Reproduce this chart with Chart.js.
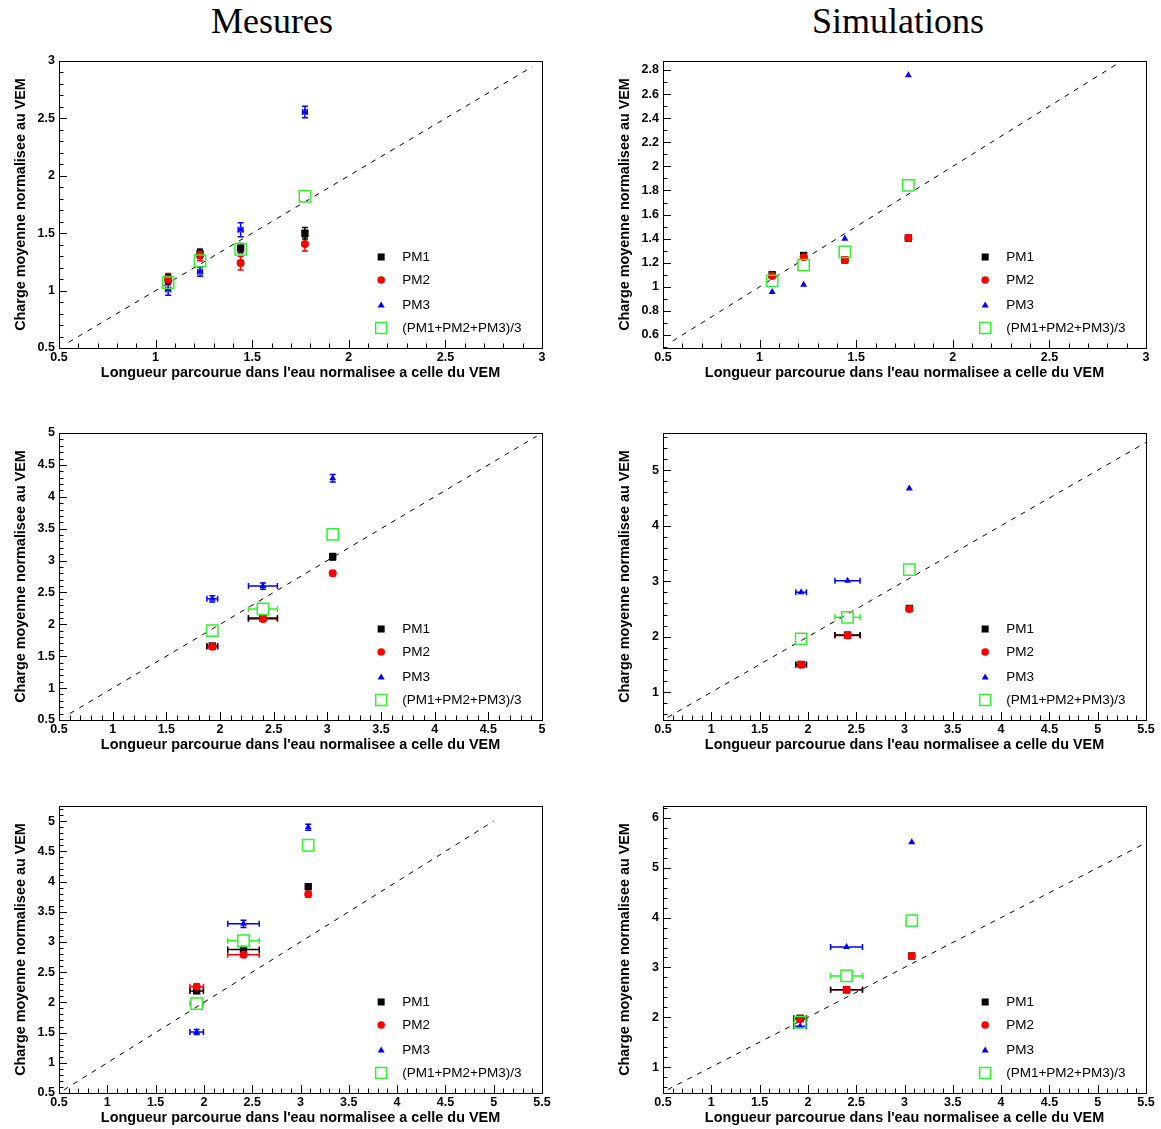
<!DOCTYPE html>
<html>
<head>
<meta charset="utf-8">
<script src="https://cdn.jsdelivr.net/npm/chart.js@4/dist/chart.umd.min.js"></script>
<style>
  body { margin: 0; background: #fff; width: 1161px; height: 1129px; position: relative; overflow: hidden; }
  canvas { position: absolute; }
  .head { position: absolute; top: 0; font-family: 'Liberation Serif', 'DejaVu Serif', serif; font-size: 36px; color: #000; text-align: center; width: 400px; }
</style>
</head>
<body>
<div class="head" style="left:72px">Mesures</div>
<div class="head" style="left:698px">Simulations</div>
<canvas id="m1"></canvas>
<canvas id="s1"></canvas>
<canvas id="m2"></canvas>
<canvas id="s2"></canvas>
<canvas id="m3"></canvas>
<canvas id="s3"></canvas>
<script>
const seriesNames = ['PM1', 'PM2', 'PM3', '(PM1+PM2+PM3)/3'];
const xTitle = "Longueur parcourue dans l'eau normalisee a celle du VEM";
const yTitle = 'Charge moyenne normalisee au VEM';

// Mesures, haut
const m1X = [1.065, 1.23, 1.44, 1.773];
const m1XErr = [0.012, 0.012, 0.012, 0.012];
const m1PM1 = [1.10, 1.32, 1.37, 1.50];
const m1PM1Err = [0.04, 0.04, 0.04, 0.05];
const m1PM2 = [1.10, 1.31, 1.24, 1.405];
const m1PM2Err = [0.05, 0.05, 0.06, 0.06];
const m1PM3 = [1.01, 1.165, 1.53, 2.555];
const m1PM3Err = [0.05, 0.04, 0.06, 0.05];
const m1Moy = [1.07, 1.26, 1.36, 1.82];
const m1MoyErr = [0.03, 0.03, 0.04, 0.05];
const m1Diag = [0.55, 2.95];

// Simulations, haut
const s1X = [1.065, 1.228, 1.441, 1.77];
const s1XErr = [0.01, 0.01, 0.01, 0.01];
const s1PM1 = [1.10, 1.26, 1.223, 1.405];
const s1PM1Err = [0.01, 0.01, 0.01, 0.01];
const s1PM2 = [1.09, 1.245, 1.223, 1.405];
const s1PM2Err = [0.01, 0.01, 0.01, 0.02];
const s1PM3 = [0.957, 1.018, 1.40, 2.756];
const s1PM3Err = [0.01, 0.01, 0.01, 0.01];
const s1Moy = [1.05, 1.18, 1.29, 1.843];
const s1MoyErr = [0.01, 0.01, 0.01, 0.01];
const s1Diag = [0.55, 2.87];

// Mesures, milieu
const m2X = [1.928, 2.40, 3.05];
const m2XErr = [0.05, 0.135, 0.01];
const m2PM1 = [1.66, 2.10, 3.06];
const m2PM1Err = [0.03, 0.03, 0.05];
const m2PM2 = [1.648, 2.083, 2.80];
const m2PM2Err = [0.03, 0.03, 0.04];
const m2PM3 = [2.40, 2.60, 4.29];
const m2PM3Err = [0.05, 0.05, 0.06];
const m2Moy = [1.90, 2.24, 3.41];
const m2MoyErr = [0.03, 0.03, 0.04];
const m2Diag = [0.6, 4.95];

// Simulations, milieu
const s2X = [1.93, 2.41, 3.05];
const s2XErr = [0.055, 0.13, 0.01];
const s2PM1 = [1.50, 2.03, 2.51];
const s2PM1Err = [0.02, 0.02, 0.02];
const s2PM2 = [1.497, 2.02, 2.50];
const s2PM2Err = [0.02, 0.02, 0.02];
const s2PM3 = [2.80, 3.01, 4.67];
const s2PM3Err = [0.02, 0.02, 0.02];
const s2Moy = [1.96, 2.35, 3.21];
const s2MoyErr = [0.02, 0.02, 0.02];
const s2Diag = [0.55, 5.5];

// Mesures, bas
const m3X = [1.925, 2.41, 3.08];
const m3XErr = [0.07, 0.163, 0.01];
const m3PM1 = [2.19, 2.876, 3.915];
const m3PM1Err = [0.04, 0.04, 0.04];
const m3PM2 = [2.26, 2.79, 3.79];
const m3PM2Err = [0.05, 0.04, 0.05];
const m3PM3 = [1.51, 3.30, 4.90];
const m3PM3Err = [0.04, 0.06, 0.05];
const m3Moy = [1.98, 3.02, 4.60];
const m3MoyErr = [0.04, 0.04, 0.05];
const m3Diag = [0.55, 5.0];

// Simulations, bas
const s3X = [1.92, 2.40, 3.075];
const s3XErr = [0.065, 0.165, 0.01];
const s3PM1 = [1.98, 2.55, 3.23];
const s3PM1Err = [0.02, 0.02, 0.02];
const s3PM2 = [1.96, 2.55, 3.23];
const s3PM2Err = [0.02, 0.02, 0.02];
const s3PM3 = [1.82, 3.41, 5.51];
const s3PM3Err = [0.02, 0.02, 0.02];
const s3Moy = [1.90, 2.83, 3.94];
const s3MoyErr = [0.02, 0.02, 0.02];
const s3Diag = [0.55, 5.5];

const colors = { pm1: '#000000', pm2: '#ff0000', pm3: '#0000ff', moy: '#33ee33' };
const tickFont = { family: "'Liberation Sans', Arial, sans-serif", size: 12.5, weight: 'bold' };
const titleFont = { family: "'Liberation Sans', Arial, sans-serif", size: 14.4, weight: 'bold' };

function points(xs, ys, xErr, yErr) {
    return xs.map((x, i) => ({ x: x, y: ys[i], xErr: xErr[i], yErr: yErr[i] }));
}

// ROOT style error bars with small caps, leaving a gap around the marker
const errorBars = {
    id: 'errorBars',
    beforeDatasetsDraw(chart) {
        const { ctx, scales: { x, y } } = chart;
        chart.data.datasets.forEach(ds => {
            if (!ds.errColor) return;
            const gap = ds.errGap || 0;
            ctx.save();
            ctx.strokeStyle = ds.errColor;
            ctx.lineWidth = 1.5;
            ds.data.forEach(p => {
                const px = x.getPixelForValue(p.x);
                const py = y.getPixelForValue(p.y);
                const x0 = x.getPixelForValue(p.x - p.xErr);
                const x1 = x.getPixelForValue(p.x + p.xErr);
                const y0 = y.getPixelForValue(p.y - p.yErr);
                const y1 = y.getPixelForValue(p.y + p.yErr);
                const c = 3;
                ctx.beginPath();
                if (px - x0 > gap) {
                    ctx.moveTo(x0, py); ctx.lineTo(px - gap, py);
                    ctx.moveTo(px + gap, py); ctx.lineTo(x1, py);
                    ctx.moveTo(x0, py - c); ctx.lineTo(x0, py + c);
                    ctx.moveTo(x1, py - c); ctx.lineTo(x1, py + c);
                }
                if (y0 - py > gap) {
                    ctx.moveTo(px, y0); ctx.lineTo(px, py + gap);
                    ctx.moveTo(px, py - gap); ctx.lineTo(px, y1);
                    ctx.moveTo(px - c, y0); ctx.lineTo(px + c, y0);
                    ctx.moveTo(px - c, y1); ctx.lineTo(px + c, y1);
                }
                ctx.stroke();
            });
            ctx.restore();
        });
    }
};

// frame and inner ticks
const rootFrame = {
    id: 'rootFrame',
    afterDraw(chart, args, opts) {
        const { ctx, chartArea: a, scales } = chart;
        ctx.save();
        ctx.strokeStyle = '#000';
        ctx.lineWidth = 1;
        ctx.strokeRect(Math.round(a.left) + 0.5, Math.round(a.top) + 0.5, Math.round(a.width), Math.round(a.height));
        ctx.beginPath();
        const xs = scales.x, ys = scales.y;
        let ms = opts.xStep / opts.xSub;
        for (let k = Math.ceil(xs.min / ms - 1e-6); k <= Math.floor(xs.max / ms + 1e-6); k++) {
            const px = Math.round(xs.getPixelForValue(k * ms)) + 0.5;
            const len = k % opts.xSub === 0 ? 8 : 4.5;
            ctx.moveTo(px, a.bottom); ctx.lineTo(px, a.bottom - len);
        }
        ms = opts.yStep / opts.ySub;
        for (let k = Math.ceil(ys.min / ms - 1e-6); k <= Math.floor(ys.max / ms + 1e-6); k++) {
            const py = Math.round(ys.getPixelForValue(k * ms)) + 0.5;
            const len = k % opts.ySub === 0 ? 8 : 4.5;
            ctx.moveTo(a.left, py); ctx.lineTo(a.left + len, py);
        }
        ctx.stroke();
        ctx.restore();
    }
};

function drawMarker(ctx, kind, x, y) {
    ctx.beginPath();
    if (kind === 'pm1') {
        ctx.fillStyle = colors.pm1;
        ctx.fillRect(x - 3.5, y - 3.5, 7, 7);
    } else if (kind === 'pm2') {
        ctx.fillStyle = colors.pm2;
        ctx.arc(x, y, 3.8, 0, Math.PI * 2);
        ctx.fill();
    } else if (kind === 'pm3') {
        ctx.fillStyle = colors.pm3;
        ctx.moveTo(x, y - 3.5); ctx.lineTo(x + 3.5, y + 2.5); ctx.lineTo(x - 3.5, y + 2.5);
        ctx.closePath();
        ctx.fill();
    } else {
        ctx.strokeStyle = colors.moy;
        ctx.lineWidth = 1.5;
        ctx.strokeRect(x - 5.5, y - 5.5, 11, 11);
    }
}

// legend inside the frame, no box
const insideLegend = {
    id: 'insideLegend',
    afterDraw(chart) {
        const { ctx, chartArea: a } = chart;
        const kinds = ['pm1', 'pm2', 'pm3', 'moy'];
        const rows = [196, 219, 244, 267];
        const mx = a.left + a.width * 0.667;
        ctx.save();
        ctx.font = "13.5px 'Liberation Sans', Arial, sans-serif";
        ctx.textBaseline = 'middle';
        kinds.forEach((k, i) => {
            drawMarker(ctx, k, mx, a.top + rows[i]);
            ctx.fillStyle = '#000';
            ctx.fillText(seriesNames[i], mx + 21, a.top + rows[i]);
        });
        ctx.restore();
    }
};

function fmt(v) {
    return String(Math.round(v * 100) / 100);
}

// ticks at every multiple of the step inside the range
function stepTicks(step) {
    return axis => {
        const list = [];
        for (let k = Math.ceil(axis.min / step - 1e-6); k <= Math.floor(axis.max / step + 1e-6); k++) {
            list.push({ value: Math.round(k * step * 1000) / 1000 });
        }
        axis.ticks = list;
    };
}

function makePanel(id, frame, p) {
    const canvas = document.getElementById(id);
    const yw = 47, xh = 34, padTop = 12, padRight = 16;
    canvas.width = frame.right - frame.left + yw + padRight;
    canvas.height = frame.bottom - frame.top + padTop + xh;
    canvas.style.left = (frame.left - yw) + 'px';
    canvas.style.top = (frame.top - padTop) + 'px';

    const scatter = (label, ys, errs, color, style, radius, gap) => ({
        label: label,
        data: points(p.x, ys, p.xErr, errs),
        pointStyle: style,
        pointRadius: radius,
        backgroundColor: color,
        borderColor: color,
        borderWidth: 0,
        errColor: color,
        errGap: gap
    });

    const moy = scatter(seriesNames[3], p.moy, p.moyErr, colors.moy, 'rect', 8, 6);
    moy.backgroundColor = 'rgba(0,0,0,0)';
    moy.borderWidth = 1.5;

    new Chart(canvas, {
        type: 'scatter',
        data: {
            datasets: [
                moy,
                scatter(seriesNames[2], p.pm3, p.pm3Err, colors.pm3, 'triangle', 4, 2),
                scatter(seriesNames[1], p.pm2, p.pm2Err, colors.pm2, 'circle', 4, 2),
                scatter(seriesNames[0], p.pm1, p.pm1Err, colors.pm1, 'rect', 5.2, 2),
                {
                    label: 'diag',
                    data: p.diag.map(v => ({ x: v, y: v })),
                    showLine: true,
                    pointRadius: 0,
                    borderColor: '#000',
                    borderWidth: 1,
                    borderDash: [5, 6]
                }
            ]
        },
        options: {
            responsive: false,
            animation: false,
            layout: { padding: { top: padTop, right: padRight, left: 0, bottom: 0 } },
            plugins: {
                legend: { display: false },
                tooltip: { enabled: false },
                rootFrame: { xStep: p.xStep, xSub: 5, yStep: p.yStep, ySub: p.ySub }
            },
            scales: {
                x: {
                    type: 'linear',
                    min: p.xMin, max: p.xMax,
                    afterFit: s => { s.height = xh; },
                    afterBuildTicks: stepTicks(p.xStep),
                    grid: { display: false, drawTicks: false },
                    border: { display: false },
                    ticks: { stepSize: p.xStep, autoSkip: false, maxRotation: 0, padding: 2, color: '#000', font: tickFont, callback: fmt },
                    title: { display: true, text: xTitle, color: '#000', font: titleFont, padding: 0 }
                },
                y: {
                    type: 'linear',
                    min: p.yMin, max: p.yMax,
                    afterFit: s => { s.width = yw; },
                    afterBuildTicks: stepTicks(p.yStep),
                    grid: { display: false, drawTicks: false },
                    border: { display: false },
                    ticks: { stepSize: p.yStep, autoSkip: false, padding: 4, color: '#000', font: tickFont, callback: fmt },
                    title: { display: true, text: yTitle, color: '#000', font: titleFont, padding: 0 }
                }
            }
        },
        plugins: [errorBars, rootFrame, insideLegend]
    });
}

makePanel('m1', { left: 59, right: 542, top: 61, bottom: 348 }, {
    x: m1X, xErr: m1XErr, pm1: m1PM1, pm1Err: m1PM1Err, pm2: m1PM2, pm2Err: m1PM2Err,
    pm3: m1PM3, pm3Err: m1PM3Err, moy: m1Moy, moyErr: m1MoyErr, diag: m1Diag,
    xMin: 0.5, xMax: 3, xStep: 0.5, yMin: 0.5, yMax: 3, yStep: 0.5, ySub: 5
});
makePanel('s1', { left: 663, right: 1146, top: 61, bottom: 348 }, {
    x: s1X, xErr: s1XErr, pm1: s1PM1, pm1Err: s1PM1Err, pm2: s1PM2, pm2Err: s1PM2Err,
    pm3: s1PM3, pm3Err: s1PM3Err, moy: s1Moy, moyErr: s1MoyErr, diag: s1Diag,
    xMin: 0.5, xMax: 3, xStep: 0.5, yMin: 0.492, yMax: 2.875, yStep: 0.2, ySub: 2
});
makePanel('m2', { left: 59, right: 542, top: 433, bottom: 720 }, {
    x: m2X, xErr: m2XErr, pm1: m2PM1, pm1Err: m2PM1Err, pm2: m2PM2, pm2Err: m2PM2Err,
    pm3: m2PM3, pm3Err: m2PM3Err, moy: m2Moy, moyErr: m2MoyErr, diag: m2Diag,
    xMin: 0.5, xMax: 5, xStep: 0.5, yMin: 0.5, yMax: 5, yStep: 0.5, ySub: 5
});
makePanel('s2', { left: 663, right: 1146, top: 433, bottom: 720 }, {
    x: s2X, xErr: s2XErr, pm1: s2PM1, pm1Err: s2PM1Err, pm2: s2PM2, pm2Err: s2PM2Err,
    pm3: s2PM3, pm3Err: s2PM3Err, moy: s2Moy, moyErr: s2MoyErr, diag: s2Diag,
    xMin: 0.5, xMax: 5.5, xStep: 0.5, yMin: 0.5, yMax: 5.67, yStep: 1, ySub: 5
});
makePanel('m3', { left: 59, right: 542, top: 806, bottom: 1093 }, {
    x: m3X, xErr: m3XErr, pm1: m3PM1, pm1Err: m3PM1Err, pm2: m3PM2, pm2Err: m3PM2Err,
    pm3: m3PM3, pm3Err: m3PM3Err, moy: m3Moy, moyErr: m3MoyErr, diag: m3Diag,
    xMin: 0.5, xMax: 5.5, xStep: 0.5, yMin: 0.5, yMax: 5.25, yStep: 0.5, ySub: 5
});
makePanel('s3', { left: 663, right: 1146, top: 806, bottom: 1093 }, {
    x: s3X, xErr: s3XErr, pm1: s3PM1, pm1Err: s3PM1Err, pm2: s3PM2, pm2Err: s3PM2Err,
    pm3: s3PM3, pm3Err: s3PM3Err, moy: s3Moy, moyErr: s3MoyErr, diag: s3Diag,
    xMin: 0.5, xMax: 5.5, xStep: 0.5, yMin: 0.48, yMax: 6.24, yStep: 1, ySub: 5
});
</script>
</body>
</html>
